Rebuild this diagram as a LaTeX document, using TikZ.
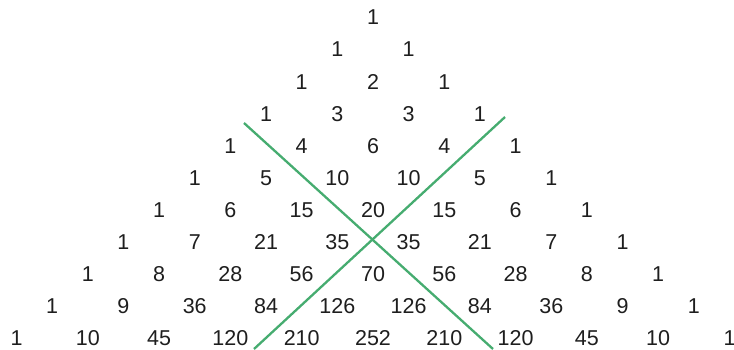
\documentclass[tikz,border=0pt]{standalone}
\usepackage{fontspec}
\setmainfont{Liberation Sans}
\definecolor{diaggreen}{RGB}{70,172,112}
\definecolor{numgray}{RGB}{30,30,30}
\tikzset{
  num/.style={inner sep=0pt,text=numgray,font=\fontsize{21.5}{25}\selectfont},
  diag/.style={draw=diaggreen,line width=2.3pt}
}

\begin{document}
\begin{tikzpicture}[x=1pt,y=-1pt]
\useasboundingbox (0,0) rectangle (734,349);
% Pascal rows
\foreach \row [count=\r from 0] in {{1},{1,1},{1,2,1},{1,3,3,1},{1,4,6,4,1},{1,5,10,10,5,1},{1,6,15,20,15,6,1},{1,7,21,35,35,21,7,1},{1,8,28,56,70,56,28,8,1},{1,9,36,84,126,126,84,36,9,1},{1,10,45,120,210,252,210,120,45,10,1}}{
  \foreach \v [count=\k from 0] in \row {\node[num] (n\r-\k) at ({373+(2*\k-\r)*35.65},{17.5+32.05*\r}) {\v};}
}
% crossing lines
\coordinate (a1) at (244,123); \coordinate (a2) at (493,349);
\coordinate (b1) at (505,117); \coordinate (b2) at (254,349);
\draw[diag] (a1)--(a2); \draw[diag] (b1)--(b2);
\end{tikzpicture}
\end{document}
